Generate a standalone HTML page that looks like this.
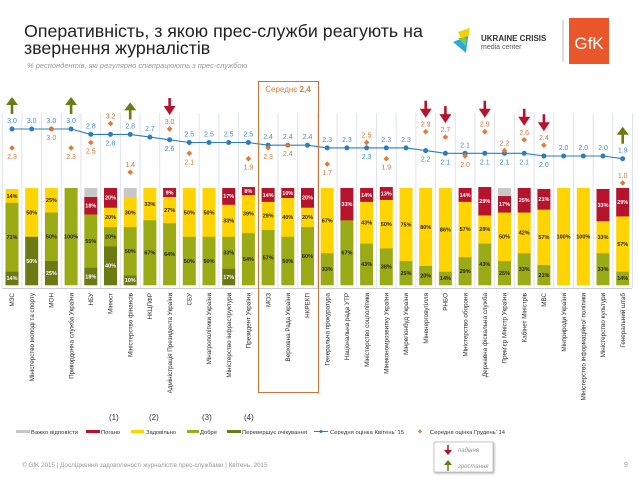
<!DOCTYPE html>
<html><head><meta charset="utf-8">
<style>
body{margin:0;background:#fff;width:638px;height:479px;overflow:hidden;font-family:"Liberation Sans",sans-serif}
svg{display:block}
</style></head>
<body>
<svg id="chart" width="638" height="479" viewBox="0 0 638 479" xmlns="http://www.w3.org/2000/svg" font-family="Liberation Sans, sans-serif">
<text x="24" y="37" font-size="17.8" fill="#222">Оперативність, з якою прес-служби реагують на</text>
<text x="24" y="54" font-size="17.8" fill="#222">звернення журналістів</text>
<text x="27" y="68" font-size="7.5" font-style="italic" fill="#999">% респондентів, які регулярно співпрацюють з прес-службою</text>
<g>
<polygon points="458,32 470,28 466,50" fill="#f5d000"/>
<polygon points="453,42 468,36 466,53" fill="#2aa8e0"/>
<polygon points="458,38 466,38 466,46" fill="#8cc63f"/>
<text x="481" y="41" font-size="8" font-weight="bold" fill="#333">UKRAINE CRISIS</text>
<text x="481" y="49" font-size="7" fill="#555">media center</text>
</g>
<line x1="563" y1="20" x2="563" y2="62" stroke="#bbb" stroke-width="1"/>
<g>
<rect x="569" y="18" width="40" height="46" fill="#e8562a"/>
<text x="589" y="49" font-size="17" fill="#fff" text-anchor="middle">GfK</text>
</g>
<g id="plot"></g>
<rect x="258.5" y="81.5" width="60" height="311" fill="none" stroke="#c8753b" stroke-width="1"/>
<text x="288" y="92" font-size="8" fill="#d8803e" text-anchor="middle">Середнє <tspan font-weight="bold">2,4</tspan></text>
<g font-size="5.8" fill="#333">
<text x="109" y="420" font-size="8">(1)</text><text x="149" y="420" font-size="8">(2)</text><text x="202" y="420" font-size="8">(3)</text><text x="244" y="420" font-size="8">(4)</text>
<g><rect x="16" y="430" width="14" height="3" fill="#c8c8c8"/><text x="31" y="434" textLength="47">Важко відповісти</text></g>
<g><rect x="86" y="430" width="14" height="3" fill="#b5142c"/><text x="101" y="434">Погано</text></g>
<g><rect x="131" y="430" width="13" height="3" fill="#ffd400"/><text x="146" y="434" textLength="30">Задовільно</text></g>
<g><rect x="187" y="430" width="12" height="3" fill="#9aab16"/><text x="200" y="434">Добре</text></g>
<g><rect x="227" y="430" width="14" height="3" fill="#6b7a12"/><text x="242" y="434" textLength="65">Перевершує очікування</text></g>
<g><line x1="314" y1="431.5" x2="328" y2="431.5" stroke="#2d7cc1"/><circle cx="321" cy="431.5" r="1.5" fill="#2d7cc1"/><text x="330" y="434" textLength="74">Середня оцінка Квітень' 15</text></g>
<g><rect x="418.5" y="430" width="3" height="3" fill="#e07b39" transform="rotate(45 420 431.5)"/><text x="430" y="434" textLength="75">Середня оцінка  Грудень' 14</text></g>
</g>
<g>
<rect x="434" y="442" width="59" height="30" fill="#fff" stroke="#bbb" stroke-width="0.8" style="filter:drop-shadow(1px 1px 1px #aaa)"/>
<line x1="448" y1="445" x2="448" y2="452" stroke="#b5142c" stroke-width="1.5"/><polygon points="444,450 452,450 448,455" fill="#b5142c"/>
<text x="458" y="452" font-size="6" font-style="italic" fill="#999">падіння</text>
<polygon points="444,465 452,465 448,460" fill="#6b7a12"/><line x1="448" y1="464" x2="448" y2="471" stroke="#6b7a12" stroke-width="1.5"/>
<text x="458" y="468" font-size="6" font-style="italic" fill="#999">зростання</text>
</g>
<text x="22" y="467" font-size="6.3" fill="#999">© GfK 2015 | Дослідження задоволеності журналістів прес-службами | Квітень, 2015</text>
<text x="624" y="467" font-size="7" fill="#999">9</text>
</svg>
<script>
const categories=["МЗС","Міністерство молоді та спорту","МОН","Прикордонна служба України","НБУ","Мінюст","Міністерство фінансів","НКЦПФР","Адміністрація Президента України","СБУ","Мінагрополітики України","Міністерство інфраструктури","Президент України","МОЗ","Верховна Рада України","НКРЕКП","Генеральна прокуратура","Національна рада УТР","Міністерство соцполітики","Мінекономрозвитку України","Мінрегіонбуд України","Міненерговугілля","РНБО","Міністерство оборони","Державна фіскальна служба","Прем'єр Міністр України","Кабінет Міністрів","МВС","Мінприроди України","Міністерство інформаційної політики","Міністерство культури","Генеральний штаб"];
const exceeds=[14,50,25,0,18,40,10,0,0,0,0,17,0,0,0,0,0,0,0,0,0,0,0,0,0,0,0,0,0,0,0,0];
const good=[71,0,50,100,55,20,50,67,64,50,50,33,54,57,50,60,33,67,43,38,25,20,14,29,43,25,33,21,0,0,33,14];
const satisfactory=[14,50,25,0,0,20,30,33,27,50,50,33,39,29,40,20,67,0,43,50,75,80,86,57,29,50,42,57,100,100,33,57];
const bad=[0,0,0,0,18,20,0,0,9,0,0,17,8,14,10,20,0,33,14,13,0,0,0,14,29,17,25,21,0,0,33,29];
const hardToSay=[0,0,0,0,9,0,10,0,0,0,0,0,0,0,0,0,0,0,0,0,0,0,0,0,0,8,0,0,0,0,0,0];
const april15=[3.0,3.0,3.0,3.0,2.8,2.8,2.8,2.7,2.6,2.5,2.5,2.5,2.5,2.4,2.4,2.4,2.3,2.3,2.3,2.3,2.3,2.2,2.1,2.1,2.1,2.1,2.1,2.0,2.0,2.0,2.0,1.9];
const december14=[2.3,null,3.0,2.3,2.5,3.2,1.4,null,3.0,2.1,null,null,1.9,2.3,2.4,null,1.7,null,2.5,1.9,null,2.9,2.7,2.0,2.9,2.2,2.6,2.4,null,null,null,1.0];
const trend=[1,0,0,1,0,0,1,0,-1,0,0,0,0,0,0,0,0,0,0,0,0,-1,-1,0,-1,0,-1,-1,0,0,0,1];

const NS="http://www.w3.org/2000/svg";
const plot=document.getElementById('plot');
const X0=12,STEP=19.7,BARW=13,BTOP=188,BBOT=285;
const xPos=i=>X0+i*STEP;
const yVal=v=>129+(3.0-v)*27;
const yPct=p=>(BBOT-BTOP)*p/100;
function mk(tag,attrs,parent){const e=document.createElementNS(NS,tag);for(const k in attrs)e.setAttribute(k,attrs[k]);(parent||plot).appendChild(e);return e;}
const fmt=v=>v.toFixed(1);

for(let i=0;i<=categories.length;i++){
  const x=xPos(i)-STEP/2;
  const l=mk('line',{x1:x,y1:113,x2:x,y2:288,stroke:'#dde3ee','stroke-width':1});
  
  
}
const ax=mk('line',{x1:2,y1:288.5,x2:632,y2:288.5,stroke:'#ccc','stroke-width':1});



const series=[[exceeds,'#6b7a12','#fff'],[good,'#9aab16','#222'],[satisfactory,'#ffd400','#222'],[bad,'#b5142c','#fff'],[hardToSay,'#c8c8c8','#222']];
categories.forEach((c,i)=>{
  let y=BBOT;const x=xPos(i)-BARW/2;
  series.forEach(([arr,col,tc],si)=>{
    const v=arr[i];if(!v)return;
    const h=yPct(v);y-=h;
    const r=mk('rect',{x:x,y:y,width:BARW,height:h+0.3,fill:col});
    
    
    if(si<4&&v>=8){
      const t=mk('text',{x:xPos(i),y:y+h/2+2,'font-size':5.5,'font-weight':'bold',fill:tc,'text-anchor':'middle'});
      
      
      t.textContent=v+'%';
    }
  });
  const lbl=mk('text',{x:0,y:0,'font-size':6.3,fill:'#333','text-anchor':'end',transform:`translate(${xPos(i)+2.2},293) rotate(-90)`});
  
  
  lbl.textContent=c;
});

const pts=april15.map((v,i)=>xPos(i)+','+yVal(v)).join(' ');
const pl=mk('polyline',{points:pts,fill:'none',stroke:'#2d7cc1','stroke-width':1.1});



april15.forEach((v,i)=>{
  const x=xPos(i),py=yVal(v),d=december14[i];
  const same=d!==null&&d===v;
  const dot=mk('circle',{cx:x,cy:py,r:2.5,fill:same?'#d0763a':'#2d7cc1'});
  
  
  const below=d!==null&&d>v;
  const ly=below?py+11:py-6;
  let tops=[ly];
  const t=mk('text',{x:x,y:ly,'font-size':7,fill:'#3d8fd1','text-anchor':'middle'});
  
  
  t.textContent=fmt(v);
  if(d!==null){
    const dy=yVal(d);
    if(same){
      const o=mk('text',{x:x,y:py+11,'font-size':7,fill:'#d0763a','text-anchor':'middle'});
      
      
      o.textContent=fmt(d);
    }else{
      const dm=mk('rect',{x:x-2,y:dy-2,width:4,height:4,fill:'#e07b39',transform:`rotate(45 ${x} ${dy})`});
      
      
      const above=d>v||d<1.5;
      const oy=above?dy-5:dy+11;
      tops.push(oy);
      const o=mk('text',{x:x,y:oy,'font-size':7,fill:'#d0763a','text-anchor':'middle'});
      
      
      o.textContent=fmt(d);
    }
  }
  if(trend[i]!==0){
    const b=Math.min(...tops)-9;
    const g=mk('g',{});
    
    
    if(trend[i]>0){
      mk('polygon',{points:`${x-6},${b-9} ${x+6},${b-9} ${x},${b-17}`,fill:'#6b7a12'},g);
      mk('rect',{x:x-1.3,y:b-10,width:2.6,height:10,fill:'#6b7a12'},g);
    }else{
      mk('rect',{x:x-1.3,y:b-17,width:2.6,height:9,fill:'#b5142c'},g);
      mk('polygon',{points:`${x-6},${b-9} ${x+6},${b-9} ${x},${b}`,fill:'#b5142c'},g);
    }
  }
});
</script>
</body></html>
